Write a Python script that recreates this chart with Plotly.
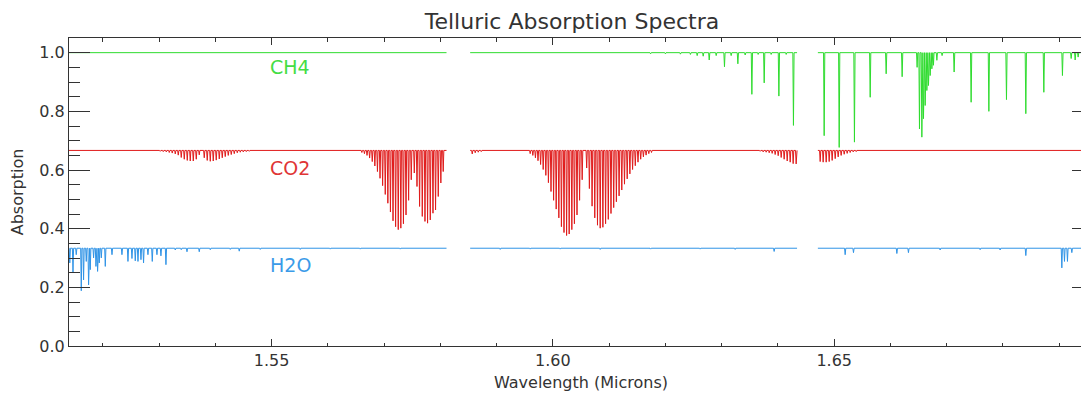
import plotly.graph_objects as go

# ---------------- data ----------------
# detector chip coverage (microns)
chip_starts = [1.5140, 1.5853, 1.6471]
chip_ends = [1.5811, 1.6434, 1.6960]

# baselines (offsets) of each species
base_ch4 = 1.0
base_co2 = 0.6667
base_h2o = 0.3333

# CH4 line centres (microns) and depths
ch4_wave = [1.61737, 1.62000, 1.62267, 1.62445, 1.62565, 1.62672, 1.62779, 1.62903,
            1.63050, 1.63169, 1.63288, 1.63418, 1.63537, 1.63649, 1.63756, 1.63880,
            1.64017, 1.64147, 1.64276, 1.64822, 1.65089, 1.65360, 1.65640, 1.65924,
            1.66208, 1.66474, 1.66516, 1.66558, 1.66587, 1.66617, 1.66647, 1.66676,
            1.66706, 1.66736, 1.66764, 1.66825, 1.66918, 1.67132, 1.67434, 1.67749,
            1.68062, 1.68406, 1.68726, 1.69057, 1.69212, 1.69283, 1.69336]
ch4_depth = [0.004, 0.004, 0.005, 0.006, 0.010, 0.012, 0.025, 0.010,
             0.048, 0.010, 0.038, 0.008, 0.142, 0.006, 0.103, 0.006,
             0.148, 0.006, 0.248, 0.283, 0.323, 0.305, 0.152, 0.072,
             0.082, 0.050, 0.260, 0.288, 0.225, 0.180, 0.129, 0.112,
             0.078, 0.055, 0.043, 0.026, 0.010, 0.066, 0.169, 0.200,
             0.160, 0.208, 0.135, 0.078, 0.020, 0.025, 0.015]

# CO2 line centres (microns) and depths
co2_wave = [
    # weak band 1.53-1.546
    1.53022, 1.53075, 1.53129, 1.53182, 1.53235, 1.53289, 1.53342, 1.53395, 1.53449,
    1.53502, 1.53555, 1.53609, 1.53662, 1.53715,
    1.53804, 1.53857, 1.53911, 1.53964, 1.54017, 1.54071, 1.54124, 1.54177, 1.54231,
    1.54284, 1.54337, 1.54391, 1.54444, 1.54497, 1.54551, 1.54604,
    # strong band 1.566-1.581
    1.56605, 1.56651, 1.56697, 1.56743, 1.56790, 1.56836, 1.56882, 1.56928, 1.56974,
    1.57021, 1.57067, 1.57113, 1.57159, 1.57205, 1.57252, 1.57298, 1.57344, 1.57390,
    1.57436, 1.57483,
    1.57537, 1.57585, 1.57631, 1.57679, 1.57727, 1.57773, 1.57821, 1.57869, 1.57915,
    1.57963, 1.58009, 1.58051,
    # weak lines at start of middle chip
    1.58567, 1.58620, 1.58674, 1.58727,
    # strong band 1.596-1.618
    1.59597, 1.59644, 1.59690, 1.59736, 1.59782, 1.59828, 1.59875, 1.59921, 1.59967,
    1.60013, 1.60059, 1.60106, 1.60152, 1.60198, 1.60244, 1.60290, 1.60337, 1.60383,
    1.60429, 1.60475, 1.60521,
    1.60601, 1.60649, 1.60697, 1.60745, 1.60793, 1.60841, 1.60889, 1.60937, 1.60985,
    1.61033, 1.61081, 1.61129, 1.61177, 1.61225, 1.61273, 1.61321, 1.61369, 1.61417,
    1.61465, 1.61513, 1.61561, 1.61609, 1.61657, 1.61705, 1.61753,
    # band around 1.64-1.655
    1.63685, 1.63738, 1.63791, 1.63845, 1.63898, 1.63951, 1.64005, 1.64058, 1.64111,
    1.64165, 1.64218, 1.64271, 1.64324,
    1.64751, 1.64804, 1.64858, 1.64911, 1.64964, 1.65018, 1.65071, 1.65124, 1.65178,
    1.65231, 1.65284, 1.65338, 1.65391, 1.65444]
co2_depth = [
    0.003, 0.004, 0.005, 0.007, 0.009, 0.012, 0.016, 0.024, 0.030,
    0.034, 0.036, 0.036, 0.030, 0.015,
    0.025, 0.034, 0.037, 0.036, 0.033, 0.029, 0.025, 0.021, 0.017,
    0.014, 0.011, 0.008, 0.006, 0.005, 0.004, 0.003,
    0.007, 0.011, 0.017, 0.026, 0.038, 0.053, 0.072, 0.095, 0.120,
    0.150, 0.180, 0.210, 0.240, 0.260, 0.270, 0.265, 0.250, 0.220,
    0.170, 0.100,
    0.077, 0.123, 0.191, 0.225, 0.242, 0.248, 0.237, 0.214, 0.203,
    0.157, 0.111, 0.072,
    0.012, 0.008, 0.006, 0.004,
    0.011, 0.017, 0.025, 0.035, 0.048, 0.065, 0.085, 0.110, 0.140,
    0.170, 0.200, 0.230, 0.260, 0.280, 0.290, 0.285, 0.270, 0.250,
    0.220, 0.170, 0.100,
    0.060, 0.130, 0.190, 0.230, 0.255, 0.265, 0.262, 0.250, 0.235,
    0.215, 0.195, 0.175, 0.155, 0.135, 0.115, 0.097, 0.080, 0.065,
    0.052, 0.040, 0.030, 0.022, 0.016, 0.011, 0.007,
    0.003, 0.005, 0.006, 0.008, 0.010, 0.014, 0.018, 0.024, 0.030,
    0.036, 0.040, 0.045, 0.046,
    0.038, 0.040, 0.040, 0.038, 0.034, 0.028, 0.022, 0.017, 0.013,
    0.010, 0.007, 0.005, 0.004]

# H2O line centres (microns) and depths
h2o_wave = [1.51414, 1.51471, 1.51529, 1.51618, 1.51659, 1.51707, 1.51748, 1.51778,
            1.51837, 1.51879, 1.51908, 1.51938, 1.51974, 1.52045, 1.52164, 1.52341,
            1.52448, 1.52519, 1.52578, 1.52626, 1.52679, 1.52725, 1.52803, 1.52880,
            1.52963, 1.53034, 1.53123, 1.53289, 1.53395, 1.53497, 1.53715, 1.53911,
            1.54266, 1.54426, 1.54799, 1.55510, 1.56043, 1.56576, 1.57287,
            1.59064, 1.59597, 1.60130, 1.60841, 1.61737, 1.62618, 1.63240,
            1.63933, 1.65195, 1.65343, 1.66114, 1.66320, 1.66883, 1.67594,
            1.67949, 1.68406, 1.69046, 1.69093, 1.69146, 1.69224]
h2o_depth = [0.050, 0.083, 0.022, 0.145, 0.108, 0.045, 0.125, 0.073,
             0.033, 0.062, 0.079, 0.050, 0.033, 0.062, 0.022, 0.022,
             0.045, 0.035, 0.043, 0.045, 0.039, 0.050, 0.022, 0.045,
             0.022, 0.026, 0.056, 0.006, 0.005, 0.012, 0.012, 0.005,
             0.004, 0.010, 0.004, 0.004, 0.003, 0.003, 0.003,
             0.004, 0.003, 0.003, 0.004, 0.003, 0.003, 0.004,
             0.011, 0.022, 0.015, 0.018, 0.015, 0.006, 0.005,
             0.006, 0.025, 0.067, 0.045, 0.045, 0.015]

species_names = ["CH4", "CO2", "H2O"]
label_x = [1.5494, 1.5494, 1.5494]
label_y = [0.951, 0.606, 0.276]

x_ticks = [1.55, 1.60, 1.65]
y_ticks = [0.0, 0.2, 0.4, 0.6, 0.8, 1.0]

# ---------------- build spectra ----------------
HW = 0.00011  # half-width of a drawn line profile (microns)


def spectrum(waves, depths, base):
    xs, ys = [], []
    pairs = sorted(zip(waves, depths))
    for a, b in zip(chip_starts, chip_ends):
        xs.append(a)
        ys.append(base)
        for c, d in pairs:
            if a < c < b:
                xs += [c - HW, c, c + HW]
                ys += [base, base - d, base]
        xs.append(b)
        ys.append(base)
        xs.append(None)
        ys.append(None)
    return xs, ys


line_colors = ["#2edc2e", "#e01b1b", "#2f93e6"]
label_colors = ["#44dd44", "#e03535", "#3b9be8"]

fig = go.Figure()
for (w, d, b), col in zip([(ch4_wave, ch4_depth, base_ch4),
                           (co2_wave, co2_depth, base_co2),
                           (h2o_wave, h2o_depth, base_h2o)], line_colors):
    xs, ys = spectrum(w, d, b)
    fig.add_trace(go.Scatter(x=xs, y=ys, mode="lines",
                             line=dict(color=col, width=1),
                             connectgaps=False, showlegend=False,
                             hoverinfo="skip"))

for name, lx, ly, col in zip(species_names, label_x, label_y, label_colors):
    fig.add_annotation(x=lx, y=ly, text=name, showarrow=False, xanchor="left",
                       yanchor="middle", font=dict(size=19, color=col,
                                                   family="DejaVu Sans"))

axis_col = "#333333"
fig.update_layout(
    width=1094, height=394,
    margin=dict(l=69, r=1, t=38, b=48),
    paper_bgcolor="white", plot_bgcolor="white",
    font=dict(family="DejaVu Sans", color="#333333", size=15),
    title=dict(text="Telluric Absorption Spectra", x=572 / 1094, xanchor="center",
               y=0.947, yanchor="middle",
               font=dict(size=22, color="#333333")),
    xaxis=dict(range=[1.514, 1.696], showgrid=False, zeroline=False,
               showline=True, linecolor=axis_col, linewidth=1, mirror="allticks",
               ticks="inside", ticklen=7, tickcolor=axis_col,
               tickvals=x_ticks, ticktext=[f"{v:.2f}" for v in x_ticks],
               tickfont=dict(size=16, color="#333333"),
               minor=dict(dtick=0.01, tick0=1.5, ticks="inside", ticklen=3.5,
                          tickcolor=axis_col),
               title=dict(text="Wavelength (Microns)", standoff=7,
                          font=dict(size=16, color="#333333"))),
    yaxis=dict(range=[0.0, 1.05], showgrid=False, zeroline=False,
               showline=True, linecolor=axis_col, linewidth=1, mirror="allticks",
               ticks="inside", ticklen=21, tickcolor=axis_col,
               tickvals=y_ticks, ticktext=[f"{v:.1f}" for v in y_ticks],
               tickfont=dict(size=16, color="#333333"),
               minor=dict(dtick=0.05, tick0=0, ticks="inside", ticklen=11,
                          tickcolor=axis_col),
               title=dict(text="Absorption", standoff=11,
                          font=dict(size=16, color="#333333"))),
)

fig.write_html("out.html", post_script=(
    "document.documentElement.style.overflow='hidden';"
    "document.body.style.overflow='hidden';"
    "document.body.style.margin='0';"))
